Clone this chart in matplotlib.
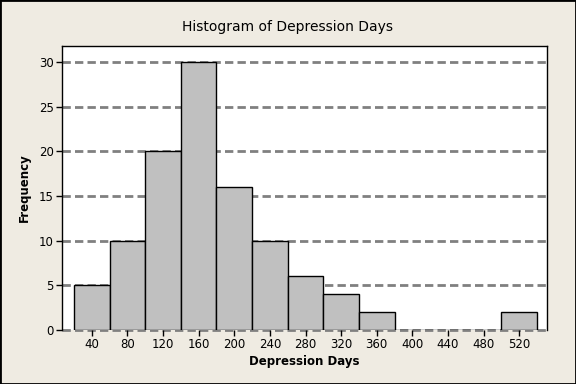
import numpy as np
import matplotlib.pyplot as plt
from matplotlib.patches import Rectangle

# bin left edges and counts
bin_left = [20, 60, 100, 140, 180, 220, 260, 300, 340, 380, 420, 460, 500]
counts = [5, 10, 20, 30, 16, 10, 6, 4, 2, 0, 0, 0, 2]
xticks = [40, 80, 120, 160, 200, 240, 280, 320, 360, 400, 440, 480, 520]
yticks = [0, 5, 10, 15, 20, 25, 30]

bg = "#EFEBE2"
fig = plt.figure(figsize=(5.76, 3.84), dpi=100, facecolor=bg)
ax = fig.add_axes([62/576, 1 - 330/384, 485/576, 284/384])
ax.set_facecolor("white")

for y in yticks:
    ax.axhline(y, color="#808080", lw=2, ls=(0, (3, 1.5)), zorder=1, clip_on=False)

ax.bar(bin_left, counts, width=40, align="edge", color="#C0C0C0",
       edgecolor="black", linewidth=1, zorder=2)

ax.set_xlim(6.5, 551.2)
ax.set_ylim(0, 31.8)
ax.set_xticks(xticks)
ax.set_yticks(yticks)
ax.tick_params(direction="out", length=4, width=1, labelsize=8.5, pad=2)
for s in ["left", "right", "top"]:
    ax.spines[s].set_linewidth(1)
ax.spines["bottom"].set_visible(False)

ax.set_xlabel("Depression Days", fontsize=8.5, fontweight="bold", labelpad=3)
ax.set_ylabel("Frequency", fontsize=8.5, fontweight="bold", labelpad=6)
fig.text(0.5, 1 - 27/384, "Histogram of Depression Days", ha="center", va="center", fontsize=10)

fig.patches.append(Rectangle((0, 0), 1, 1, transform=fig.transFigure, fill=False,
                             edgecolor="black", linewidth=2))
fig.savefig("out.png", dpi=100, facecolor=bg)
